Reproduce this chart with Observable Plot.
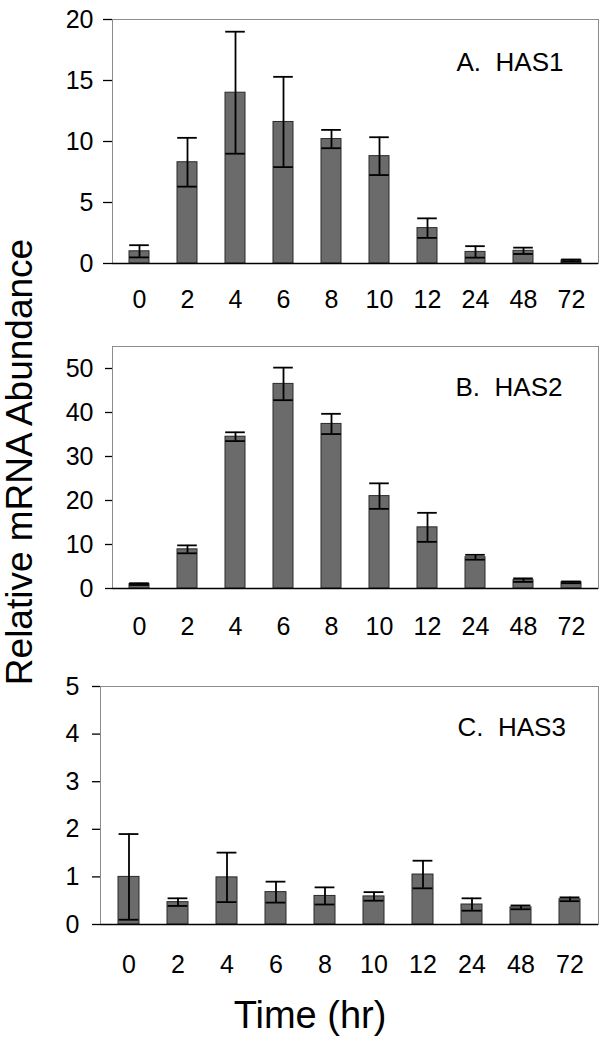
<!DOCTYPE html>
<html><head><meta charset="utf-8">
<script src="https://cdn.jsdelivr.net/npm/d3@7"></script>
<script src="https://cdn.jsdelivr.net/npm/@observablehq/plot@0.6"></script>
<style>
body{margin:0;background:#fff;font-family:"Liberation Sans",Arial,sans-serif;}
#wrap{position:relative;width:609px;height:1050px;overflow:hidden;}
.panel{position:absolute;left:0;}
#ylab{position:absolute;left:0;top:0;transform-origin:0 0;white-space:nowrap;line-height:1.1;color:#000;}
#xlab{position:absolute;left:0;top:0;white-space:nowrap;line-height:1;color:#000;}
</style></head>
<body><div id="wrap"></div>
<script>
const times = ["0","2","4","6","8","10","12","24","48","72"];
const has1Mean = [1.0, 8.3, 14.0, 11.6, 10.2, 8.8, 2.9, 0.95, 1.04, 0.25];
const has1Err  = [0.5, 2.0, 5.0, 3.7, 0.75, 1.55, 0.8, 0.47, 0.26, 0.08];
const has2Mean = [1.0, 8.9, 34.5, 46.5, 37.4, 21.0, 13.9, 7.1, 1.9, 1.4];
const has2Err  = [0.2, 0.9, 1.0, 3.7, 2.3, 2.9, 3.3, 0.55, 0.4, 0.2];
const has3Mean = [1.0, 0.47, 0.99, 0.68, 0.6, 0.59, 1.05, 0.42, 0.36, 0.53];
const has3Err  = [0.9, 0.08, 0.52, 0.22, 0.18, 0.09, 0.29, 0.13, 0.04, 0.04];
const yLabel = "Relative mRNA Abundance";
const xLabel = "Time (hr)";

const wrap = document.getElementById("wrap");
const FONT = "Liberation Sans, Arial, sans-serif";

function panel(o) {
  const data = times.map((t, i) => ({t, v: o.mean[i], e: o.err[i]}));
  const W = 609;
  const step = (W - o.marginLeft - 11) / times.length;
  const capInset = (step - 9) / 2;
  const p = Plot.plot({
    width: W,
    height: o.height,
    marginTop: o.marginTop,
    marginBottom: o.marginBottom,
    marginLeft: o.marginLeft,
    marginRight: 11,
    style: {fontSize: "25px", fontFamily: FONT, color: "#000", background: "#fff"},
    x: {domain: times, paddingInner: 0.58, paddingOuter: 0.29, label: null},
    y: {domain: o.domain, ticks: o.ticks, label: null},
    marks: [
      Plot.frame({stroke: "#8c8c8c", strokeWidth: 1}),
      Plot.barY(data, {x: "t", y: "v", fill: "#6b6b6b", stroke: "#2a2a2a", strokeWidth: 1}),
      Plot.ruleX(data, {x: "t", y1: d => d.v - d.e, y2: d => d.v + d.e, stroke: "#000", strokeWidth: 1.8}),
      Plot.tickY(data, {x: "t", y: d => d.v - d.e, stroke: "#000", strokeWidth: 1.8, insetLeft: capInset, insetRight: capInset}),
      Plot.tickY(data, {x: "t", y: d => d.v + d.e, stroke: "#000", strokeWidth: 1.8, insetLeft: capInset, insetRight: capInset}),
      Plot.ruleY([0], {stroke: "#000", strokeWidth: 1.3}),
      Plot.axisY({ticks: o.ticks, tickSize: o.tickSize, tickPadding: o.tickPad, line: true, stroke: "#000", strokeWidth: 1.3, label: null, tickFormat: d => String(d)}),
      Plot.axisX({tickSize: 0, tickPadding: o.xPad, label: null}),
      Plot.text([o.label], {frameAnchor: "top-left", dx: o.labelX - o.marginLeft, dy: o.labelBase - o.marginTop, lineAnchor: "bottom", textAnchor: "start", fontSize: 26, fill: "#000"})
    ]
  });
  p.classList.add("panel");
  p.style.top = o.top + "px";
  p.style.position = "absolute";
  wrap.appendChild(p);
}

panel({mean: has1Mean, err: has1Err, domain: [0, 20], ticks: [0, 5, 10, 15, 20], label: "A.  HAS1",
  top: 0, height: 330, marginTop: 19, marginBottom: 67, marginLeft: 112, tickSize: 9, tickPad: 10, xPad: 27,
  labelX: 456, labelBase: 70});
panel({mean: has2Mean, err: has2Err, domain: [0, 55], ticks: [0, 10, 20, 30, 40, 50], label: "B.  HAS2",
  top: 330, height: 320, marginTop: 16, marginBottom: 62, marginLeft: 112, tickSize: 7, tickPad: 12, xPad: 29,
  labelX: 455, labelBase: 65});
panel({mean: has3Mean, err: has3Err, domain: [0, 5], ticks: [0, 1, 2, 3, 4, 5], label: "C.  HAS3",
  top: 670, height: 330, marginTop: 16, marginBottom: 76, marginLeft: 100, tickSize: 8, tickPad: 13, xPad: 31,
  labelX: 457, labelBase: 65});

const yl = document.createElement("div");
yl.id = "ylab";
yl.textContent = yLabel;
yl.style.fontSize = "37px";
yl.style.transform = "translate(0px, 462px) rotate(-90deg) translate(-50%, 0)";
wrap.appendChild(yl);

const xl = document.createElement("div");
xl.id = "xlab";
xl.textContent = xLabel;
xl.style.fontSize = "38px";
xl.style.transform = "translate(310px, 996px) translate(-50%, 0)";
wrap.appendChild(xl);
</script>
</body></html>
